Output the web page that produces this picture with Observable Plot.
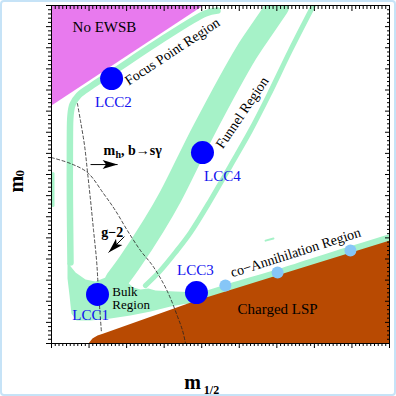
<!DOCTYPE html>
<html><head><meta charset="utf-8">
<script src="https://cdn.jsdelivr.net/npm/d3@7"></script>
<script src="https://cdn.jsdelivr.net/npm/@observablehq/plot@0.6"></script>
<style>
html,body{margin:0;padding:0;background:#fff;}
#wrap{position:relative;width:396px;height:396px;overflow:hidden;}
#wrap:after{content:"";position:absolute;left:0;top:0;right:0;bottom:0;border:2px solid #c6e3f7;border-radius:4px;pointer-events:none;box-sizing:border-box;}
svg{display:block;}
</style></head><body><div id="wrap"></div>
<script>
// ---- axis ticks (no labels in the original) ----
const xMajor = d3.range(0, 901, 100);
const xMinor = d3.range(0, 901, 10).filter(v => v % 100);
const yMajor = d3.range(0, 1601, 100);
const yMinor = d3.range(0, 1601, 20).filter(v => v % 100);

// ---- regions (m1/2, m0) ----
const ewsbM12 = [0, 404, 0];
const ewsbM0  = [1600, 1600, 1127];

const focusM12 = [442, 410, 290, 162, 104, 72, 56, 50.6, 49, 49, 50.6];
const focusM0  = [1576, 1562, 1434, 1283, 1216, 1174, 1131, 1079, 961, 677, 383];

const funnelM12 = [602, 562, 519, 405, 317, 272, 208, 173];
const funnelM0  = [1595, 1491, 1377, 1008, 696, 558, 383, 298];

const funnel2M12 = [700, 636, 578, 530, 477, 423, 370, 330, 290, 250];
const funnel2M0  = [1609, 1387, 1174, 1008, 843, 677, 525, 431, 345, 274];

const bulkM12 = [42.6, 64, 90.5, 117, 144, 170, 197, 218, 237, 258, 277, 330, 397, 418, 389, 362, 317, 264, 210, 157, 104, 66.6, 53, 48, 42.6];
const bulkM0  = [383, 336, 303, 293, 312, 331, 298, 265, 256, 260, 251, 246, 241, 218, 194, 189, 175, 151, 132, 118, 109, 109, 142, 227, 308];

const coannM12 = [365, 474, 610, 785, 908];
const coannM0  = [203, 265, 336, 435, 502];

const edgeM12 = [4, 4];
const edgeM0  = [805, 653];

const specM12 = [570, 591];
const specM0  = [487, 497];

const lspM12 = [98.5, 109, 122.5, 138.5, 386, 583, 900, 900];
const lspM0  = [0, 24, 38, 47, 203, 312, 487, 0];

// ---- constraint curves ----
const mhM12 = [69, 77, 88, 96, 104, 112, 120, 125, 133];
const mhM0  = [1136, 1056, 937, 809, 677, 535, 393, 251, 52];
const g2M12 = [0, 50.6, 96, 138.5, 170, 202, 237, 269, 298, 317, 335.5, 349, 357];
const g2M0  = [880, 852, 809, 710, 630, 535, 440, 369, 284, 213, 128, 61, 0];

// ---- benchmark points ----
const lccNames = ["LCC1", "LCC2", "LCC3", "LCC4"];
const lccM12 = [122.5, 160, 386, 402];
const lccM0  = [232, 1254, 241, 904];
const lccLabelM12 = [104, 165, 383, 455];
const lccLabelM0  = [132, 1141, 345, 790];

const coPtsM12 = [463, 602, 796];
const coPtsM0  = [274, 336, 440];

// ---- arrows ----
const arrowFromM12 = [104, 194];
const arrowFromM0  = [847, 506];
const arrowToM12 = [176, 152];
const arrowToM0  = [847, 431];
const arrowDir = [90, 225];

// ---- region labels ----
const regionText = ["No EWSB", "Focus Point Region", "Funnel Region", "co\u2212Annihilation Region", "Charged LSP"];
const regionM12 = [141, 322, 508, 650, 602];
const regionM0  = [1496, 1382, 1093, 431, 163];
const regionRot = [0, -33.5, -56, -17.6, 0];
const regionSize = [15, 14, 14, 14, 15];

const bulkText = ["Bulk", "Region"];
const bulkTextM12 = [162, 162];
const bulkTextM0 = [246, 182];

const zip = (xs, ys) => xs.map((x, i) => ({x, y: ys[i]}));

const serif = "'Liberation Serif', 'Times New Roman', 'DejaVu Serif', serif";
const GREEN = "#a6f2c8", MAG = "#e87aee", BROWN = "#b84a02";

const arrowHead = {
  draw(ctx) {
    ctx.moveTo(0, 0);
    ctx.lineTo(4.5, 15);
    ctx.lineTo(0, 11.5);
    ctx.lineTo(-4.5, 15);
    ctx.closePath();
  }
};

const chart = Plot.plot({
  width: 396, height: 396,
  marginLeft: 51, marginRight: 7, marginTop: 5, marginBottom: 53,
  x: {domain: [0, 900]},
  y: {domain: [0, 1600]},
  style: {fontFamily: serif, background: "white"},
  marks: [
    Plot.line(zip(ewsbM12, ewsbM0), {x: "x", y: "y", fill: MAG, stroke: null, clip: true}),
    Plot.line(zip(bulkM12, bulkM0), {x: "x", y: "y", fill: GREEN, stroke: null, clip: true}),
    Plot.line(zip(focusM12, focusM0), {x: "x", y: "y", stroke: GREEN, strokeWidth: 6.5, curve: "catmull-rom", strokeLinecap: "round", strokeLinejoin: "round", clip: true}),
    Plot.line(zip(funnelM12, funnelM0), {x: "x", y: "y", stroke: GREEN, strokeWidth: 23, curve: "catmull-rom", strokeLinecap: "round", strokeLinejoin: "round", clip: true}),
    Plot.line(zip(funnel2M12, funnel2M0), {x: "x", y: "y", stroke: GREEN, strokeWidth: 5, curve: "catmull-rom", strokeLinecap: "round", clip: true}),
    Plot.line(zip(coannM12, coannM0), {x: "x", y: "y", stroke: GREEN, strokeWidth: 8, curve: "catmull-rom", strokeLinecap: "round", clip: true}),
    Plot.line(zip(edgeM12, edgeM0), {x: "x", y: "y", stroke: GREEN, strokeWidth: 3, clip: true}),
    Plot.line(zip(specM12, specM0), {x: "x", y: "y", stroke: GREEN, strokeWidth: 2, clip: true}),
    Plot.line(zip(lspM12, lspM0), {x: "x", y: "y", fill: BROWN, stroke: null, clip: true}),
    Plot.line(zip(mhM12, mhM0), {x: "x", y: "y", stroke: "#222", strokeWidth: 0.8, strokeDasharray: "3,2.5", curve: "catmull-rom", clip: true}),
    Plot.line(zip(g2M12, g2M0), {x: "x", y: "y", stroke: "#222", strokeWidth: 0.8, strokeDasharray: "3,2.5", curve: "catmull-rom", clip: true}),
    Plot.dot(zip(coPtsM12, coPtsM0), {x: "x", y: "y", r: 6, fill: "#86c6f7", stroke: null}),
    Plot.dot(zip(lccM12, lccM0), {x: "x", y: "y", r: 11.5, fill: "#0000ff", stroke: null}),
    Plot.link(arrowFromM12.map((x, i) => ({x1: x, y1: arrowFromM0[i], x2: arrowToM12[i], y2: arrowToM0[i]})), {x1: "x1", y1: "y1", x2: "x2", y2: "y2", stroke: "black", strokeWidth: 1}),
    Plot.dot(arrowToM12.map((x, i) => ({x, y: arrowToM0[i], r: arrowDir[i]})), {x: "x", y: "y", rotate: "r", symbol: arrowHead, fill: "black", stroke: null}),
    Plot.text(lccNames.map((t, i) => ({t, x: lccLabelM12[i], y: lccLabelM0[i]})), {x: "x", y: "y", text: "t", fill: "#1111ee", fontSize: 15}),
    Plot.text(regionText.map((t, i) => ({t, x: regionM12[i], y: regionM0[i], r: regionRot[i], s: regionSize[i]})), {x: "x", y: "y", text: "t", rotate: "r", fontSize: (d) => d.s, fill: "black"}),
    Plot.text(bulkText.map((t, i) => ({t, x: bulkTextM12[i], y: bulkTextM0[i]})), {x: "x", y: "y", text: "t", textAnchor: "start", fontSize: 13, fill: "black"}),
    // m_h, b -> s gamma label
    Plot.text([{x: 138.5, y: 914}], {x: "x", y: "y", text: () => "m", textAnchor: "start", fontWeight: "bold", fontSize: 14}),
    Plot.text([{x: 138.5, y: 914}], {x: "x", y: "y", text: () => "h", textAnchor: "start", fontWeight: "bold", fontSize: 10, dx: 12, dy: 4}),
    Plot.text([{x: 138.5, y: 914}], {x: "x", y: "y", text: () => ", b\u2192s\u03b3", textAnchor: "start", fontWeight: "bold", fontSize: 14, dx: 17.5}),
    Plot.text([{x: 162, y: 525}], {x: "x", y: "y", text: () => "g\u22122", fontWeight: "bold", fontSize: 14}),
    // axis titles
    Plot.text(["m"], {frameAnchor: "left", text: (d) => d, rotate: -90, dx: -35, dy: 18, fontWeight: "bold", fontSize: 20}),
    Plot.text(["0"], {frameAnchor: "left", text: (d) => d, rotate: -90, dx: -32, dy: 2, fontWeight: "bold", fontSize: 13}),
    Plot.text(["m"], {frameAnchor: "bottom", text: (d) => d, dx: -28, dy: 45, fontWeight: "bold", fontSize: 20}),
    Plot.text(["1/2"], {frameAnchor: "bottom", text: (d) => d, dx: -9, dy: 50, fontWeight: "bold", fontSize: 12}),
    // ticks
    Plot.axisX(xMajor, {anchor: "bottom", tickSize: 5, tickFormat: () => "", label: null}),
    Plot.axisX(xMinor, {anchor: "bottom", tickSize: 3, tickFormat: () => "", label: null}),
    Plot.axisX(xMajor, {anchor: "top", tickSize: 5, dy: 5, tickFormat: () => "", label: null}),
    Plot.axisX(xMinor, {anchor: "top", tickSize: 3, dy: 3, tickFormat: () => "", label: null}),
    Plot.axisY(yMajor, {anchor: "left", tickSize: 5, tickFormat: () => "", label: null}),
    Plot.axisY(yMinor, {anchor: "left", tickSize: 3, tickFormat: () => "", label: null}),
    Plot.axisY(yMajor, {anchor: "right", tickSize: 5, dx: -5, tickFormat: () => "", label: null}),
    Plot.axisY(yMinor, {anchor: "right", tickSize: 3, dx: -3, tickFormat: () => "", label: null}),
    Plot.frame({stroke: "black", strokeWidth: 1})
  ]
});
document.getElementById("wrap").appendChild(chart);
</script></body></html>
